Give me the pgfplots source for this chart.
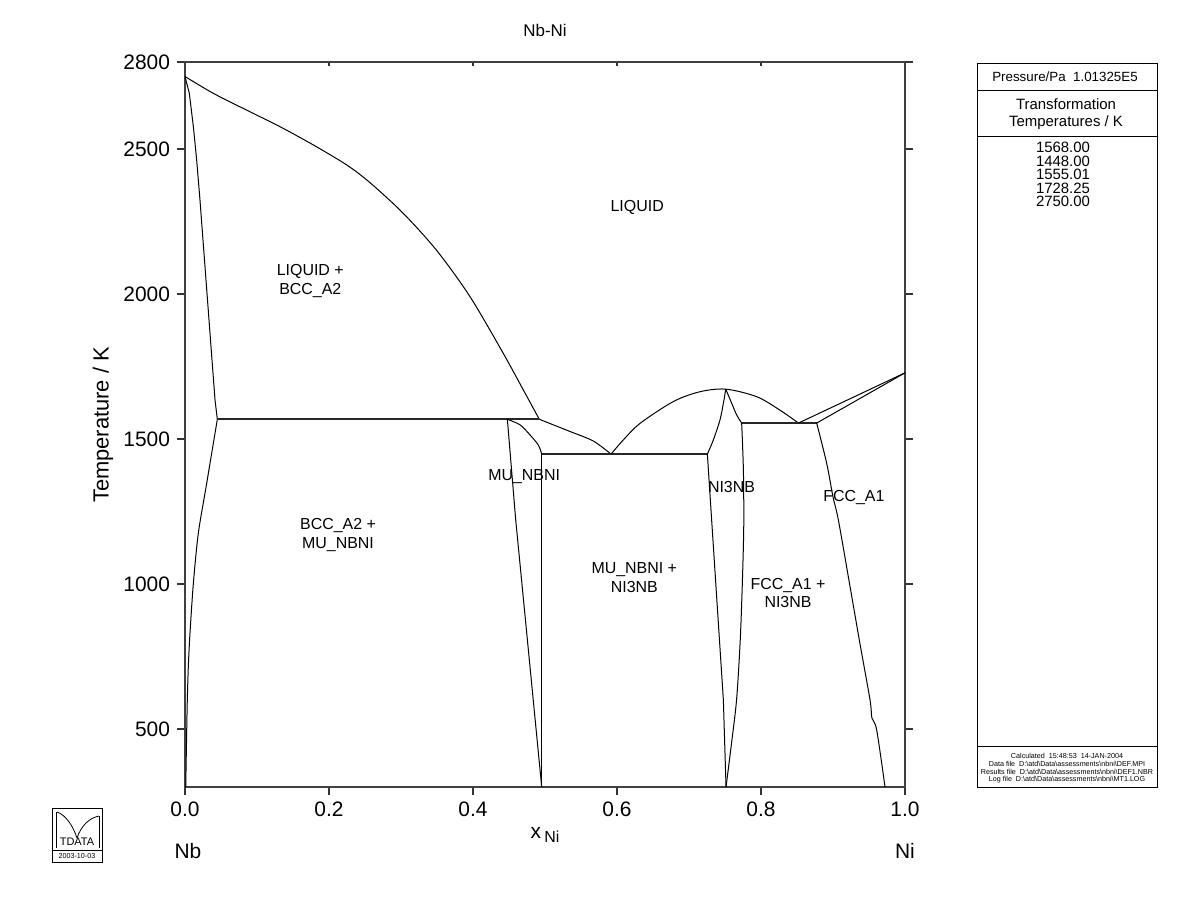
\documentclass[border=0pt]{standalone}
\usepackage{fontspec}
\setmainfont{Liberation Sans}
\usepackage{pgfplots}
\pgfplotsset{compat=1.18}
\newcommand\bs{\textbackslash}
\newcommand\fs[1]{\fontsize{#1}{#1}\selectfont}
\begin{document}
\begin{tikzpicture}
\begin{scope}[x=0.5bp,y=-0.5bp]
\useasboundingbox (0,0) rectangle (1200,923);
\end{scope}
\begin{axis}[
  at={(92.5bp,-31bp)}, anchor=north west,
  width=360bp, height=362.5bp, scale only axis,
  xmin=0, xmax=1, ymin=300, ymax=2800,
  xtick={0,0.2,0.4,0.6,0.8,1},
  xticklabels={0.0,0.2,0.4,0.6,0.8,1.0},
  ytick={500,1000,1500,2000,2500,2800},
  yticklabels={500,1000,1500,2000,2500,2800},
  xtick pos=bottom, ytick pos=both, yticklabel pos=left,
  tick align=outside, major tick length=4bp,
  tick style={black!80, line width=0.6bp},
  tick label style={font=\fs{10.5}},
  axis line style={black!75, line width=0.8bp},
  every axis plot/.append style={black, line width=0.5bp, mark=none},
  clip=false,
]
% Nb side: liquidus, solidus, solvus
\addplot[smooth] coordinates {(0,2750) (0.0393,2692) (0.0857,2634) (0.1319,2577) (0.1782,2514) (0.2246,2445) (0.2569,2384) (0.3032,2278) (0.3496,2150) (0.3958,1991) (0.4421,1795) (0.4699,1669) (0.4921,1568)};
\addplot[sharp plot] coordinates {(0,2750) (0.006,2692) (0.0116,2577) (0.0162,2462) (0.0208,2324) (0.0417,1634) (0.0449,1568)};
\addplot[smooth] coordinates {(0.0449,1568) (0.0301,1347) (0.0185,1175) (0.0116,1002) (0.0069,830) (0.0046,715) (0.0032,600) (0.0023,486) (0.001,300)};
\addplot[sharp plot, line width=1bp, black!85] coordinates {(0.0449,1568) (0.4921,1568)};
% MU_NBNI
\addplot[sharp plot] coordinates {(0.4477,1568) (0.4593,1221) (0.4954,300)};
\addplot[sharp plot] coordinates {(0.4954,1448) (0.4954,300)};
\addplot[smooth] coordinates {(0.4477,1568) (0.4653,1549) (0.4792,1514) (0.4907,1479) (0.4954,1448)};
\addplot[smooth] coordinates {(0.4921,1568) (0.5347,1526) (0.5671,1493) (0.5917,1448)};
\addplot[sharp plot, line width=1bp, black!85] coordinates {(0.4954,1448) (0.7255,1448)};
% NI3NB
\addplot[smooth] coordinates {(0.5917,1448) (0.6088,1497) (0.632,1554) (0.678,1629) (0.715,1663) (0.751,1672) (0.794,1646) (0.826,1600) (0.852,1555)};
\addplot[smooth] coordinates {(0.7255,1448) (0.7338,1497) (0.743,1566) (0.7477,1623) (0.751,1672)};
\addplot[smooth] coordinates {(0.751,1672) (0.7593,1623) (0.7662,1583) (0.7731,1555)};
\addplot[sharp plot] coordinates {(0.7255,1448) (0.7269,1393) (0.7477,600) (0.7514,300)};
\addplot[smooth] coordinates {(0.7731,1555) (0.7755,1393) (0.776,1200) (0.774,1000) (0.771,800) (0.766,600) (0.759,451) (0.7514,300)};
\addplot[sharp plot, line width=1bp, black!85] coordinates {(0.7731,1555) (0.8773,1555)};
% FCC_A1
\addplot[sharp plot] coordinates {(0.852,1555) (1,1728.25)};
\addplot[sharp plot] coordinates {(0.8773,1555) (1,1728.25)};
\addplot[smooth] coordinates {(0.8773,1555) (0.8912,1416) (0.9,1300) (0.9074,1221) (0.923,1000) (0.937,800) (0.9514,600) (0.954,538) (0.9606,497) (0.9722,300)};
% phase labels
\begin{scope}[every node/.style={font=\fontsize{8}{9.5}\selectfont, align=center}]
\node at (axis cs:0.628,2300) {LIQUID};
\node at (axis cs:0.174,2045) {LIQUID +\\BCC\_A2};
\node at (axis cs:0.2125,1169) {BCC\_A2 +\\MU\_NBNI};
\node at (axis cs:0.471,1372) {MU\_NBNI};
\node at (axis cs:0.624,1021) {MU\_NBNI +\\NI3NB};
\node at (axis cs:0.759,1333) {NI3NB};
\node at (axis cs:0.929,1297) {FCC\_A1};
\node at (axis cs:0.8375,969) {FCC\_A1 +\\NI3NB};
\end{scope}
\end{axis}
% top ticks (inside)
\begin{axis}[
  at={(92.5bp,-31bp)}, anchor=north west,
  width=360bp, height=362.5bp, scale only axis,
  xmin=0, xmax=1, ymin=300, ymax=2800,
  axis x line*=top, hide y axis,
  xtick={0.2,0.4,0.6,0.8}, xticklabels={},
  tick align=inside, major tick length=2bp,
  tick style={black!80, line width=0.6bp},
  axis line style={black!75, line width=0.8bp},
]
\end{axis}
\begin{scope}[x=0.5bp,y=-0.5bp]
% titles
\node[font=\fs{8.5}] at (545,30) {Nb-Ni};
\node[font=\fs{11}, rotate=90] at (103,425) {Temperature / K};
\node[font=\fs{10.5}, anchor=base] at (545,838) {x\,\raisebox{-0.45ex}{\fs{8}Ni}};
\node[font=\fs{10.5}] at (188,851) {Nb};
\node[font=\fs{10.5}] at (905,851) {Ni};
% info panel
\begin{scope}[line width=0.5bp]
\draw (977,63) rectangle (1157,787);
\draw (977,90) -- (1157,90);
\draw (977,136) -- (1157,136);
\draw (977,746) -- (1157,746);
\end{scope}
\node[font=\fs{6.7}] at (1065,77) {Pressure/Pa\ \ 1.01325E5};
\node[font=\fs{7.5}] at (1066,104) {Transformation};
\node[font=\fs{7.5}] at (1066,123) {Temperatures / K};
\begin{scope}[every node/.style={font=\fs{7.5}}]
\node at (1063,147.5) {1568.00};
\node at (1063,161) {1448.00};
\node at (1063,174.5) {1555.01};
\node at (1063,188) {1728.25};
\node at (1063,201.5) {2750.00};
\end{scope}
\begin{scope}[every node/.style={font=\fs{3.6}}]
\node at (1067,756) {Calculated\ \ 15:48:53\ \ 14-JAN-2004};
\node at (1067,764) {Data file\ \ D:\bs{}atd\bs{}Data\bs{}assessments\bs{}nbni\bs{}DEF.MPI};
\node at (1067,772) {Results file\ \ D:\bs{}atd\bs{}Data\bs{}assessments\bs{}nbni\bs{}DEF1.NBR};
\node at (1067,780) {Log file\ \ D:\bs{}atd\bs{}Data\bs{}assessments\bs{}nbni\bs{}MT1.LOG};
\end{scope}
% logo
\begin{scope}[line width=0.4bp]
\draw (52,808) rectangle (102,862);
\draw (52,850) -- (102,850);
\draw (56,812) -- (56,848);
\draw (57,812) .. controls (66,815) and (73,826) .. (77,838);
\draw (77,838) .. controls (81,826) and (89,818) .. (99,816);
\draw (99,816) -- (99,848);
\end{scope}
\node[font=\fs{5.5}] at (77,842) {TDATA};
\node[font=\fs{3.6}] at (77,856) {2003-10-03};
\end{scope}
\end{tikzpicture}
\end{document}
